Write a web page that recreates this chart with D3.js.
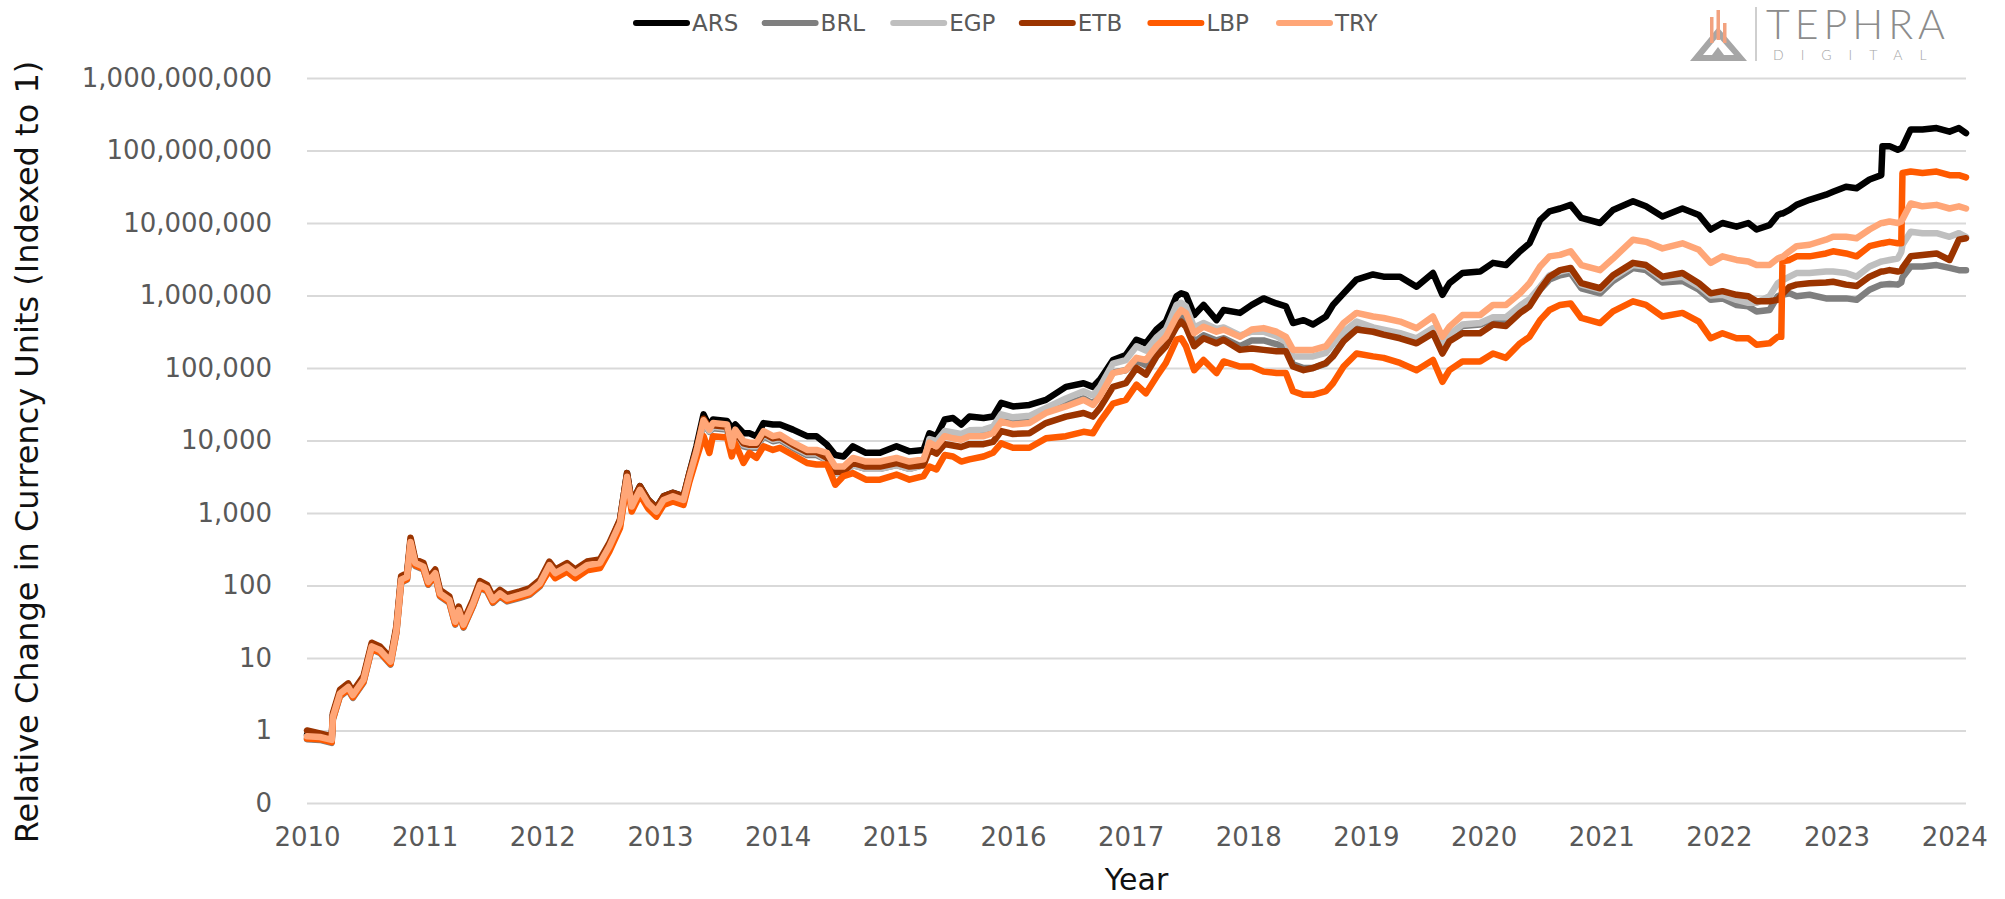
<!DOCTYPE html>
<html>
<head>
<meta charset="utf-8">
<script src="https://cdn.jsdelivr.net/npm/d3@7"></script>
<style>
  body { margin: 0; background: #fff; }
  svg { display: block; }
</style>
</head>
<body>
<div id="chart"></div>
<script>
/* DATA */
// dates as fractional years
const dates = [
 2010.00, 2010.11, 2010.21, 2010.22, 2010.28, 2010.35, 2010.39, 2010.48, 2010.55, 2010.62,
 2010.71, 2010.76, 2010.80, 2010.85, 2010.88, 2010.92, 2010.99, 2011.03, 2011.09, 2011.13,
 2011.21, 2011.26, 2011.29, 2011.33, 2011.41, 2011.47, 2011.53, 2011.58, 2011.64, 2011.70,
 2011.81, 2011.89, 2011.98, 2012.06, 2012.11, 2012.21, 2012.28, 2012.38, 2012.49, 2012.57,
 2012.66, 2012.72, 2012.76, 2012.83, 2012.90, 2012.97, 2013.03, 2013.11, 2013.20, 2013.25,
 2013.31, 2013.37, 2013.42,
 2013.45, 2013.57, 2013.61, 2013.64, 2013.71, 2013.76, 2013.82, 2013.88, 2013.96, 2014.02,
 2014.13, 2014.25, 2014.33, 2014.42, 2014.49, 2014.56, 2014.64, 2014.75, 2014.87, 2015.01,
 2015.12, 2015.24, 2015.29, 2015.35, 2015.42, 2015.49, 2015.56, 2015.63, 2015.75, 2015.83,
 2015.90, 2016.00, 2016.14, 2016.28, 2016.45, 2016.60, 2016.68, 2016.74, 2016.85, 2016.96,
 2017.05, 2017.13, 2017.22, 2017.30, 2017.39, 2017.43, 2017.47, 2017.54, 2017.62, 2017.73,
 2017.79, 2017.93, 2018.03, 2018.13, 2018.24, 2018.32, 2018.38, 2018.47, 2018.55, 2018.66,
 2018.72, 2018.81, 2018.92, 2019.06, 2019.15, 2019.29, 2019.43, 2019.57, 2019.65, 2019.71,
 2019.82, 2019.97, 2020.08, 2020.19, 2020.31, 2020.39, 2020.48, 2020.56, 2020.65, 2020.74,
 2020.83, 2020.99, 2021.10, 2021.27, 2021.38, 2021.52, 2021.69, 2021.83, 2021.93, 2022.03,
 2022.15, 2022.25, 2022.32, 2022.43, 2022.50, 2022.53, 2022.54, 2022.60, 2022.66, 2022.77,
 2022.91, 2022.97, 2023.08, 2023.17, 2023.28, 2023.38, 2023.39, 2023.45, 2023.52, 2023.55,
 2023.56, 2023.63, 2023.73, 2023.85, 2023.96, 2024.04, 2024.10
];

// log10 of the index value (start = 1)
const ARS = [
 -0.06, -0.07, -0.11, 0.21, 0.53, 0.62, 0.51, 0.72, 1.18, 1.13,
 0.97, 1.41, 2.10, 2.14, 2.62, 2.33, 2.28, 2.07, 2.19, 1.91,
 1.82, 1.52, 1.68, 1.48, 1.77, 2.03, 1.98, 1.82, 1.91, 1.84,
 1.89, 1.93, 2.05, 2.30, 2.19, 2.28, 2.19, 2.30, 2.33, 2.56,
 2.90, 3.55, 3.14, 3.37, 3.18, 3.07, 3.23, 3.28, 3.23, 3.55,
 3.92, 4.36, 4.19,
 4.29, 4.27, 4.17, 4.22, 4.10, 4.10, 4.06, 4.24, 4.22, 4.22,
 4.15, 4.06, 4.06, 3.94, 3.80, 3.78, 3.92, 3.83, 3.83, 3.92,
 3.85, 3.87, 4.10, 4.06, 4.29, 4.31, 4.22, 4.33, 4.31, 4.33,
 4.52, 4.47, 4.49, 4.56, 4.74, 4.79, 4.74, 4.84, 5.11, 5.18,
 5.39, 5.34, 5.53, 5.64, 5.99, 6.03, 6.01, 5.73, 5.87, 5.66,
 5.80, 5.76, 5.87, 5.96, 5.89, 5.85, 5.62, 5.66, 5.60, 5.71,
 5.87, 6.03, 6.22, 6.29, 6.26, 6.26, 6.12, 6.31, 6.01, 6.17,
 6.31, 6.33, 6.45, 6.42, 6.61, 6.72, 7.04, 7.16, 7.20, 7.25,
 7.07, 7.00, 7.18, 7.30, 7.23, 7.09, 7.20, 7.11, 6.91, 7.00,
 6.95, 7.00, 6.91, 6.97, 7.11, 7.13, 7.13, 7.18, 7.25, 7.32,
 7.39, 7.43, 7.50, 7.48, 7.60, 7.66, 8.06, 8.06, 8.01, 8.03,
 8.05, 8.29, 8.29, 8.31, 8.26, 8.31, 8.24
];
const BRL = [
 -0.12, -0.13, -0.17, 0.15, 0.47, 0.56, 0.45, 0.66, 1.12, 1.07,
 0.91, 1.35, 2.04, 2.08, 2.56, 2.27, 2.22, 2.01, 2.13, 1.85,
 1.76, 1.46, 1.62, 1.42, 1.71, 1.97, 1.92, 1.76, 1.85, 1.78,
 1.83, 1.87, 1.99, 2.24, 2.13, 2.22, 2.13, 2.24, 2.27, 2.50,
 2.82, 3.46, 3.05, 3.28, 3.09, 2.98, 3.14, 3.19, 3.14, 3.46,
 3.81, 4.24, 4.12,
 4.17, 4.15, 3.85, 4.08, 3.92, 3.90, 3.90, 4.06, 3.99, 4.01,
 3.90, 3.80, 3.80, 3.73, 3.54, 3.54, 3.66, 3.61, 3.61, 3.66,
 3.61, 3.66, 3.99, 3.95, 4.10, 4.07, 4.05, 4.10, 4.10, 4.13,
 4.30, 4.25, 4.27, 4.40, 4.50, 4.58, 4.51, 4.63, 4.94, 4.97,
 5.10, 5.04, 5.22, 5.34, 5.62, 5.70, 5.65, 5.36, 5.45, 5.38,
 5.41, 5.30, 5.38, 5.38, 5.33, 5.28, 5.05, 5.00, 5.00, 5.06,
 5.17, 5.38, 5.55, 5.52, 5.49, 5.46, 5.39, 5.53, 5.30, 5.44,
 5.58, 5.60, 5.68, 5.66, 5.83, 5.92, 6.08, 6.22, 6.28, 6.31,
 6.10, 6.03, 6.20, 6.38, 6.35, 6.18, 6.20, 6.08, 5.94, 5.96,
 5.87, 5.85, 5.78, 5.80, 5.99, 6.01, 6.01, 6.03, 5.99, 6.01,
 5.96, 5.96, 5.96, 5.94, 6.08, 6.15, 6.15, 6.16, 6.15, 6.18,
 6.25, 6.40, 6.40, 6.42, 6.38, 6.35, 6.35
];
const EGP = [
 -0.09, -0.10, -0.14, 0.18, 0.50, 0.59, 0.48, 0.69, 1.15, 1.10,
 0.94, 1.38, 2.07, 2.11, 2.59, 2.30, 2.25, 2.04, 2.16, 1.88,
 1.79, 1.49, 1.65, 1.45, 1.74, 2.00, 1.95, 1.79, 1.88, 1.81,
 1.86, 1.90, 2.02, 2.27, 2.16, 2.25, 2.16, 2.27, 2.30, 2.53,
 2.85, 3.49, 3.08, 3.31, 3.12, 3.01, 3.17, 3.22, 3.17, 3.49,
 3.83, 4.26, 4.13,
 4.19, 4.17, 3.87, 4.10, 3.94, 3.92, 3.92, 4.08, 4.01, 4.03,
 3.92, 3.82, 3.82, 3.73, 3.54, 3.54, 3.66, 3.61, 3.61, 3.66,
 3.61, 3.66, 4.02, 3.99, 4.13, 4.11, 4.09, 4.14, 4.15, 4.19,
 4.36, 4.32, 4.34, 4.45, 4.58, 4.68, 4.62, 4.74, 5.06, 5.11,
 5.30, 5.24, 5.42, 5.53, 5.87, 5.90, 5.85, 5.56, 5.62, 5.54,
 5.56, 5.45, 5.50, 5.50, 5.44, 5.36, 5.16, 5.16, 5.16, 5.21,
 5.33, 5.50, 5.64, 5.56, 5.53, 5.48, 5.41, 5.55, 5.32, 5.46,
 5.60, 5.62, 5.70, 5.70, 5.86, 5.95, 6.12, 6.28, 6.33, 6.36,
 6.15, 6.08, 6.25, 6.42, 6.40, 6.23, 6.26, 6.13, 6.00, 6.01,
 5.94, 5.90, 5.90, 5.99, 6.17, 6.20, 6.21, 6.26, 6.31, 6.31,
 6.33, 6.33, 6.31, 6.26, 6.40, 6.47, 6.47, 6.49, 6.51, 6.60,
 6.70, 6.88, 6.86, 6.86, 6.81, 6.86, 6.81
];
const ETB = [
 0.00, -0.04, -0.08, 0.24, 0.56, 0.65, 0.54, 0.75, 1.21, 1.16,
 1.00, 1.44, 2.13, 2.17, 2.66, 2.36, 2.31, 2.10, 2.22, 1.94,
 1.85, 1.55, 1.71, 1.51, 1.80, 2.06, 2.01, 1.85, 1.94, 1.87,
 1.92, 1.96, 2.08, 2.33, 2.22, 2.31, 2.22, 2.33, 2.36, 2.59,
 2.91, 3.55, 3.14, 3.37, 3.18, 3.07, 3.23, 3.28, 3.23, 3.55,
 3.88, 4.30, 4.18,
 4.21, 4.19, 3.89, 4.12, 3.96, 3.94, 3.94, 4.10, 4.03, 4.05,
 3.94, 3.84, 3.84, 3.76, 3.57, 3.57, 3.69, 3.64, 3.64, 3.69,
 3.64, 3.66, 3.87, 3.82, 3.95, 3.93, 3.91, 3.95, 3.95, 3.98,
 4.13, 4.09, 4.10, 4.24, 4.33, 4.38, 4.33, 4.45, 4.74, 4.79,
 5.00, 4.91, 5.16, 5.30, 5.57, 5.64, 5.57, 5.30, 5.41, 5.34,
 5.39, 5.25, 5.27, 5.25, 5.23, 5.23, 5.02, 4.97, 5.00, 5.07,
 5.16, 5.37, 5.53, 5.50, 5.46, 5.41, 5.34, 5.48, 5.20, 5.37,
 5.48, 5.48, 5.60, 5.58, 5.76, 5.85, 6.08, 6.26, 6.35, 6.38,
 6.17, 6.10, 6.28, 6.45, 6.42, 6.26, 6.31, 6.17, 6.03, 6.06,
 6.01, 5.99, 5.92, 5.92, 5.94, 6.00, 6.02, 6.12, 6.15, 6.17,
 6.18, 6.19, 6.15, 6.13, 6.26, 6.33, 6.33, 6.35, 6.33, 6.34,
 6.38, 6.54, 6.56, 6.58, 6.49, 6.77, 6.79
];
const LBP = [
 -0.11, -0.12, -0.16, 0.16, 0.48, 0.57, 0.46, 0.67, 1.13, 1.08,
 0.92, 1.36, 2.05, 2.09, 2.57, 2.28, 2.23, 2.02, 2.14, 1.86,
 1.77, 1.47, 1.63, 1.43, 1.72, 1.98, 1.93, 1.77, 1.86, 1.79,
 1.84, 1.88, 2.00, 2.21, 2.10, 2.19, 2.10, 2.21, 2.24, 2.47,
 2.79, 3.43, 3.02, 3.25, 3.06, 2.95, 3.11, 3.16, 3.11, 3.43,
 3.75, 4.06, 3.83,
 4.06, 4.04, 3.78, 3.96, 3.69, 3.83, 3.76, 3.92, 3.87, 3.90,
 3.80, 3.69, 3.67, 3.67, 3.39, 3.51, 3.55, 3.46, 3.46, 3.53,
 3.46, 3.51, 3.64, 3.60, 3.80, 3.78, 3.71, 3.74, 3.78, 3.83,
 3.96, 3.90, 3.90, 4.03, 4.06, 4.12, 4.10, 4.26, 4.51, 4.56,
 4.77, 4.65, 4.88, 5.07, 5.39, 5.41, 5.30, 4.97, 5.11, 4.93,
 5.09, 5.02, 5.02, 4.95, 4.93, 4.93, 4.68, 4.63, 4.63, 4.68,
 4.79, 5.02, 5.20, 5.16, 5.14, 5.07, 4.97, 5.11, 4.81, 4.97,
 5.09, 5.09, 5.20, 5.14, 5.34, 5.43, 5.66, 5.80, 5.87, 5.89,
 5.69, 5.62, 5.78, 5.92, 5.87, 5.71, 5.76, 5.64, 5.41, 5.48,
 5.41, 5.41, 5.32, 5.34, 5.43, 5.43, 6.47, 6.49, 6.54, 6.54,
 6.58, 6.61, 6.58, 6.54, 6.68, 6.72, 6.72, 6.74, 6.72, 6.72,
 7.69, 7.71, 7.69, 7.71, 7.66, 7.66, 7.63
];
const TRY = [
 -0.08, -0.09, -0.13, 0.19, 0.51, 0.60, 0.49, 0.70, 1.16, 1.11,
 0.95, 1.39, 2.08, 2.12, 2.60, 2.31, 2.26, 2.05, 2.17, 1.89,
 1.80, 1.50, 1.66, 1.46, 1.75, 2.01, 1.96, 1.80, 1.89, 1.82,
 1.87, 1.91, 2.03, 2.28, 2.17, 2.26, 2.17, 2.28, 2.31, 2.54,
 2.86, 3.50, 3.09, 3.32, 3.13, 3.02, 3.18, 3.23, 3.18, 3.50,
 3.85, 4.28, 4.15,
 4.24, 4.22, 3.92, 4.15, 3.99, 3.97, 3.97, 4.13, 4.06, 4.08,
 3.97, 3.87, 3.87, 3.83, 3.64, 3.64, 3.76, 3.71, 3.71, 3.76,
 3.71, 3.74, 3.97, 3.92, 4.06, 4.03, 4.01, 4.06, 4.06, 4.10,
 4.26, 4.22, 4.24, 4.38, 4.47, 4.56, 4.49, 4.61, 4.93, 4.97,
 5.14, 5.11, 5.30, 5.43, 5.71, 5.80, 5.76, 5.48, 5.57, 5.50,
 5.53, 5.43, 5.53, 5.55, 5.50, 5.43, 5.25, 5.25, 5.25, 5.30,
 5.43, 5.62, 5.76, 5.71, 5.69, 5.64, 5.55, 5.71, 5.43, 5.57,
 5.73, 5.73, 5.87, 5.87, 6.03, 6.17, 6.40, 6.54, 6.56, 6.61,
 6.42, 6.35, 6.51, 6.77, 6.74, 6.65, 6.72, 6.63, 6.45, 6.54,
 6.49, 6.47, 6.42, 6.42, 6.51, 6.53, 6.53, 6.61, 6.68, 6.70,
 6.77, 6.81, 6.81, 6.79, 6.91, 7.00, 7.00, 7.02, 7.00, 7.02,
 7.05, 7.27, 7.23, 7.25, 7.20, 7.23, 7.20
];

const currencies = ["ARS", "BRL", "EGP", "ETB", "LBP", "TRY"];
const seriesValues = [ARS, BRL, EGP, ETB, LBP, TRY];
const colors = ["#000000", "#7f7f7f", "#bfbfbf", "#9b3400", "#ff5a00", "#ffa677"];
const yTicks = [0.1, 1, 10, 100, 1e3, 1e4, 1e5, 1e6, 1e7, 1e8, 1e9];
const yearTicks = [2010, 2011, 2012, 2013, 2014, 2015, 2016, 2017, 2018, 2019, 2020, 2021, 2022, 2023, 2024];

/* LAYOUT */
const width = 2005, height = 899,
  margin = { top: 78, right: 39, bottom: 96, left: 307 };
const tickFont = "'DejaVu Sans', sans-serif";

const svg = d3.select("#chart").append("svg")
  .attr("width", width)
  .attr("height", height);

const x = d3.scaleLinear()
  .domain([2010, 2024.1])
  .range([margin.left, width - margin.right]);

const y = d3.scaleLog()
  .domain([0.1, 1e9])
  .range([height - margin.bottom, margin.top]);

// gridlines
svg.append("g")
  .attr("transform", `translate(${margin.left},0)`)
  .call(d3.axisLeft(y).tickValues(yTicks).tickSize(-(width - margin.left - margin.right)).tickFormat(""))
  .call(g => g.select(".domain").remove())
  .call(g => g.selectAll("line").attr("stroke", "#d9d9d9").attr("stroke-width", 2));

// y axis labels
svg.append("g")
  .attr("transform", `translate(${margin.left},0)`)
  .call(d3.axisLeft(y).tickValues(yTicks).tickSize(0).tickPadding(35)
    .tickFormat(d => d < 1 ? "0" : d3.format(",")(d)))
  .call(g => g.select(".domain").remove())
  .call(g => g.selectAll("text").attr("fill", "#595959")
    .style("font-family", tickFont).style("font-size", "26px"));

// x axis labels
svg.append("g")
  .attr("transform", `translate(0,${height - margin.bottom})`)
  .call(d3.axisBottom(x).tickValues(yearTicks).tickSize(0).tickPadding(25).tickFormat(d3.format("d")))
  .call(g => g.select(".domain").remove())
  .call(g => g.selectAll("text").attr("fill", "#595959")
    .style("font-family", tickFont).style("font-size", "26px"));

// axis titles
svg.append("text")
  .attr("transform", "translate(27,452) rotate(-90)")
  .attr("text-anchor", "middle")
  .attr("dominant-baseline", "central")
  .style("font-family", tickFont).style("font-size", "32px")
  .attr("fill", "#111")
  .text("Relative Change in Currency Units (Indexed to 1)");

svg.append("text")
  .attr("x", (margin.left + width - margin.right) / 2)
  .attr("y", 890)
  .attr("text-anchor", "middle")
  .style("font-family", tickFont).style("font-size", "30px")
  .attr("fill", "#111")
  .text("Year");

// lines
const series = currencies.map((c, i) => ({
  name: c,
  color: colors[i],
  values: dates.map((d, j) => ({ date: d, value: Math.pow(10, seriesValues[i][j]) }))
}));

const line = d3.line()
  .x(d => x(d.date))
  .y(d => y(d.value));

svg.append("g")
  .selectAll("path")
  .data(series)
  .join("path")
  .attr("d", d => line(d.values))
  .attr("fill", "none")
  .attr("stroke", d => d.color)
  .attr("stroke-width", 6.5)
  .attr("stroke-linejoin", "round")
  .attr("stroke-linecap", "round");

// legend
const legend = svg.append("g")
  .selectAll("g")
  .data(series)
  .join("g")
  .attr("transform", (d, i) => `translate(${633 + i * 128.6},23)`);

legend.append("line")
  .attr("x1", 3).attr("x2", 54)
  .attr("stroke", d => d.color)
  .attr("stroke-width", 6)
  .attr("stroke-linecap", "round");

legend.append("text")
  .attr("x", 59)
  .attr("dominant-baseline", "central")
  .attr("fill", "#595959")
  .style("font-family", tickFont).style("font-size", "23px")
  .text(d => d.name);

// logo (top right)
const logo = svg.append("g");
logo.append("path")
  .attr("d", "M1690,61 L1718,27 L1747,61 Z M1703,55 L1718,37 L1734,55 Z")
  .attr("fill", "#a6a6a6")
  .attr("fill-rule", "evenodd");
logo.append("path")
  .attr("d", "M1712,55 L1718,47 L1724,55 Z")
  .attr("fill", "#a6a6a6");
logo.selectAll("rect")
  .data([[1710, 17, 26], [1716.5, 10, 30], [1723, 23, 20]])
  .join("rect")
  .attr("x", d => d[0]).attr("y", d => d[1])
  .attr("width", 3.5).attr("height", d => d[2])
  .attr("fill", "#f2a27f");
logo.append("line")
  .attr("x1", 1756).attr("x2", 1756).attr("y1", 7).attr("y2", 61)
  .attr("stroke", "#bfbfbf").attr("stroke-width", 1.5);
logo.append("text")
  .attr("x", 1766).attr("y", 39)
  .style("font-family", "Lato, sans-serif").style("font-weight", 300).style("font-size", "41px")
  .style("letter-spacing", "5px")
  .attr("fill", "#8c8c8c")
  .text("TEPHRA");
logo.append("text")
  .attr("x", 1773).attr("y", 60)
  .style("font-family", "Lato, sans-serif").style("font-weight", 300).style("font-size", "14px")
  .style("letter-spacing", "17px")
  .attr("fill", "#a6a6a6")
  .text("DIGITAL");
</script>
</body>
</html>
